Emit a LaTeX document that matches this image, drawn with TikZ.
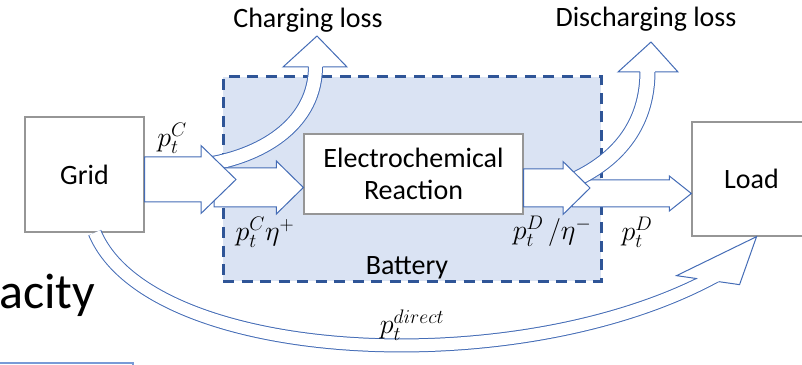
\RequirePackage{fix-cm}
\documentclass[tikz,border=0pt]{standalone}
\usepackage{fontspec}
\setmainfont{Carlito}
\usetikzlibrary{positioning, calc}
\definecolor{battfill}{RGB}{218, 227, 243}
\definecolor{battedge}{RGB}{47, 85, 151}
\definecolor{flowblue}{RGB}{68, 108, 182}
\definecolor{boxgray}{RGB}{150, 150, 150}
\definecolor{framelight}{RGB}{120, 155, 215}

\begin{document}
\begin{tikzpicture}[
    x=1pt, y=1pt,
    box/.style={draw=boxgray, line width=1.3pt, fill=white, rectangle, align=center, font=\fontsize{28}{32}\selectfont},
    lbl/.style={font=\fontsize{28}{32}\selectfont, inner sep=1pt},
    batt/.style={draw=battedge, fill=battfill, line width=3pt, dash pattern=on 11pt off 7.5pt},
    flow/.style={draw=flowblue, fill=white, line width=1pt, line join=miter},
    flowline/.style={draw=flowblue, line width=1pt, double=white, double distance=#1},
    hflow/.style args={#1/#2/#3}{flow, to path={let \p1=(\tikztostart), \p2=(\tikztotarget) in
        (\x1,\y1+#1) -- (\x2-#3,\y1+#1) -- (\x2-#3,\y1+#2) -- (\x2,\y1)
        -- (\x2-#3,\y1-#2) -- (\x2-#3,\y1-#1) -- (\x1,\y1-#1) -- cycle}}
]
\useasboundingbox (0,0) rectangle (802,364);

% Battery box and the three blocks
\node[batt, minimum width=378pt, minimum height=204pt] (battery) at (412,185) {};
\node[lbl, anchor=base] (battlbl) at ($(battery.south)+(-5,8)$) {Battery};
\node[box, minimum width=119pt, minimum height=115pt] (grid) at (84.5,189.5) {Grid};
\node[box, minimum width=219pt, minimum height=80pt] (react) at (413.5,190) {Electrochemical\\Reaction};
\node[box, minimum width=119pt, minimum height=114pt] (load) at (751.5,185) {Load};

% Free ends of the flows
\coordinate (c1tip) at (236,184.5);
\coordinate (c2tail) at (214,176.5);
\coordinate (cstart) at (210,200);
\coordinate (closs) at (315.5,298);
\coordinate (d1tip) at (590,176);
\coordinate (d2tail) at (572,170.5);
\coordinate (dstart) at (574,184);
\coordinate (dloss) at (647.5,293);
\coordinate (dtip) at (load.-85);

% Direct flow below the battery
\draw[flowline=12pt] (grid.-80) .. controls (150,0) and (520,-20) .. ($(dtip)+(-39,-38.2)$);
\draw[flow] ($(dtip)+(-59.3,-42)$) -- ($(dtip)+(-80,-39)$) -- (dtip) -- ($(dtip)+(-17,-48)$) -- ($(dtip)+(-37.8,-45)$);

% Charging side
\draw[flowline=13pt] (cstart) to[out=10, in=-90] (closs);
\draw[flow] ($(closs)+(-7,-1)$) -- ($(closs)+(-32.5,-1)$) -- ($(closs)+(1.5,30)$) -- ($(closs)+(31.5,-1)$) -- ($(closs)+(7,-1)$);
\draw[hflow=19.5/26.5/27] (c2tail) to (react.west);
\draw[hflow=22.5/34/35] ($(grid.east)+(0,-5)$) to (c1tip);

% Discharging side
\draw[hflow=13.5/17.5/22] (d2tail) to (load.west);
\draw[flowline=14pt] (dstart) to[out=25, in=-90] (dloss);
\draw[flow] ($(dloss)+(-7.5,-1)$) -- ($(dloss)+(-29.5,-1)$) -- ($(dloss)+(3.5,29)$) -- ($(dloss)+(30.5,-1)$) -- ($(dloss)+(7.5,-1)$);
\draw[hflow=19/26.5/27] ($(react.east)+(0,-14)$) to (d1tip);

% Labels
\node[lbl, anchor=base] (closslbl) at (308,336) {Charging loss};
\node[lbl, anchor=base] (dlosslbl) at (646,337) {Discharging loss};
\node[lbl] (pc) at (172,226) {$p_t^C$};
\node[lbl] (pceta) at (265,132) {$p_t^C\eta^+$};
\node[lbl] (pdeta) at (552,133) {$p_t^D\,/\eta^-$};
\node[lbl] (pd) at (637,132) {$p_t^D$};
\node[lbl] (pdirect) at (412,39) {$p_t^{direct}$};

% Cut-off slide leftovers
\node[anchor=base west, inner sep=0pt, font=\fontsize{50}{60}\selectfont] (acity) at (-1,56) {acity};
\draw[framelight, line width=2pt] (-5,-20) rectangle (133,1);

\end{tikzpicture}
\end{document}
